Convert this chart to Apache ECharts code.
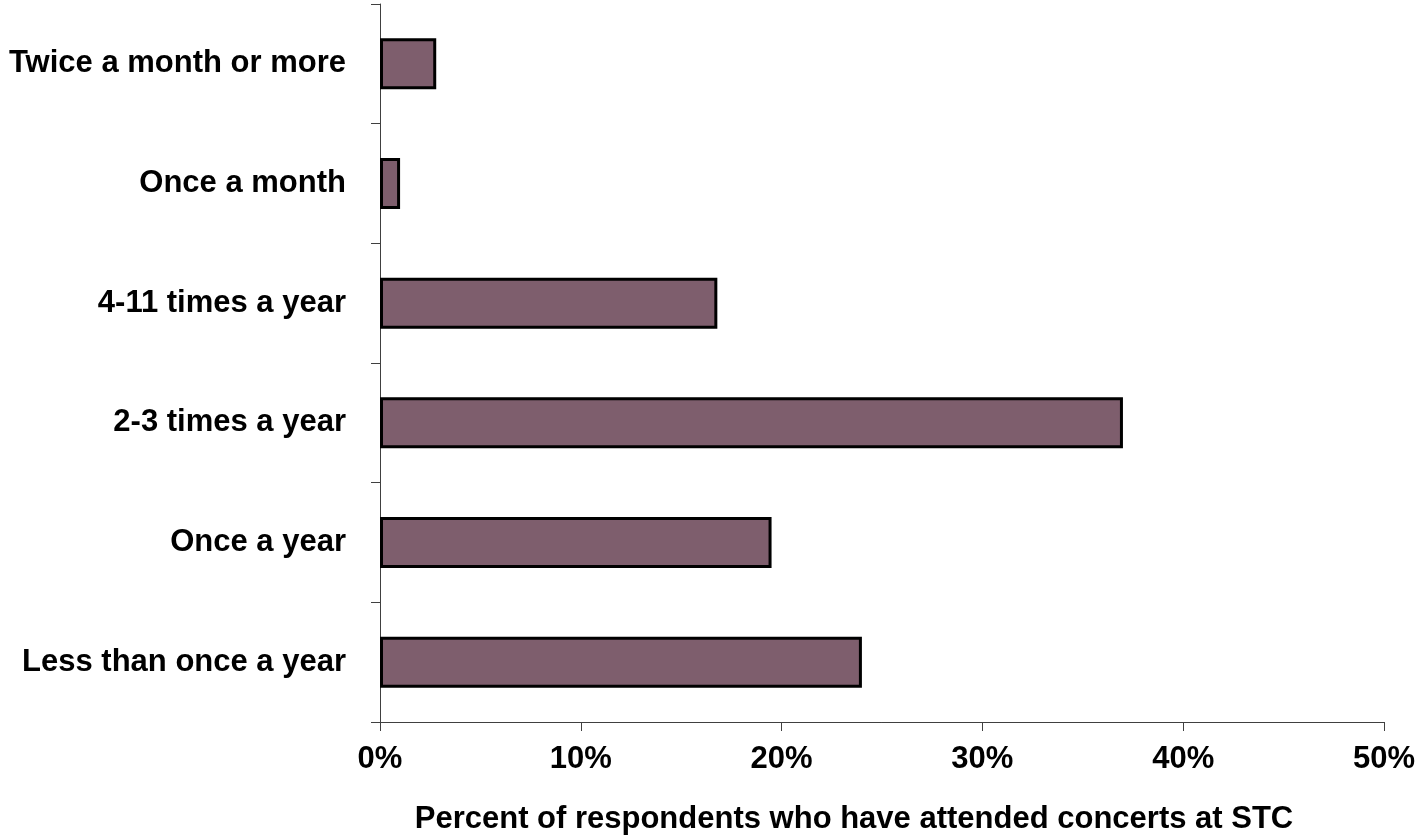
<!DOCTYPE html>
<html>
<head>
<meta charset="utf-8">
<script src="https://cdn.jsdelivr.net/npm/echarts@6/dist/echarts.min.js"></script>
<style>
html,body{margin:0;padding:0;background:#fff;}
#chart{width:1418px;height:840px;}
</style>
</head>
<body>
<div id="chart"></div>
<script>
const categories = ["Twice a month or more", "Once a month", "4-11 times a year", "2-3 times a year", "Once a year", "Less than once a year"];
const values = [2.8, 1.0, 16.8, 37.0, 19.5, 24.0];
const xTicks = [0, 10, 20, 30, 40, 50];
const xTitle = "Percent of respondents who have attended concerts at STC";

const font = "'Liberation Sans', Arial, sans-serif";
const chart = echarts.init(document.getElementById('chart'), null, {renderer: 'canvas'});
chart.setOption({
  animation: false,
  backgroundColor: '#ffffff',
  grid: {left: 380, right: 34, top: 4, bottom: 114, containLabel: false},
  xAxis: {
    type: 'value',
    min: xTicks[0],
    max: xTicks[xTicks.length - 1],
    interval: 10,
    name: xTitle,
    nameLocation: 'middle',
    nameGap: 82,
    nameTextStyle: {fontFamily: font, fontWeight: 'bold', fontSize: 31, color: '#000', padding: [0, 56, 0, 0]},
    axisLine: {show: true, lineStyle: {color: '#404040', width: 1}},
    axisTick: {show: true, length: 9, lineStyle: {color: '#404040'}},
    splitLine: {show: false},
    axisLabel: {formatter: v => v + '%', fontFamily: font, fontWeight: 'bold', fontSize: 31, color: '#000', margin: 22}
  },
  yAxis: {
    type: 'category',
    data: categories,
    inverse: true,
    axisLine: {show: true, lineStyle: {color: '#404040', width: 1}},
    axisTick: {show: true, length: 9, alignWithLabel: false, lineStyle: {color: '#404040'}},
    axisLabel: {fontFamily: font, fontWeight: 'bold', fontSize: 31, color: '#000', margin: 34}
  },
  series: [{
    type: 'bar',
    data: values,
    barWidth: 51,
    itemStyle: {color: '#7e5e6d', borderColor: '#000', borderWidth: 3}
  }]
});
</script>
</body>
</html>
